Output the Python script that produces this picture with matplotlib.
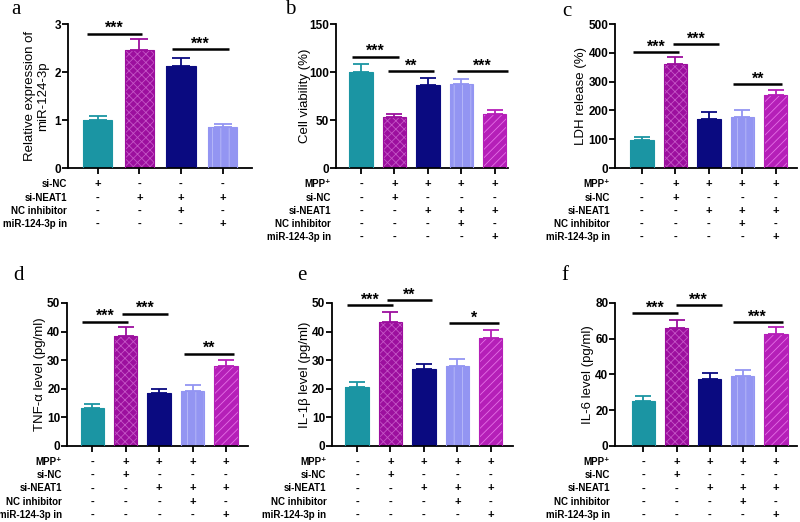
import matplotlib
matplotlib.use("Agg")
import matplotlib.pyplot as plt

plt.rcParams['font.family'] = ['Liberation Sans', 'DejaVu Sans']
plt.rcParams['hatch.linewidth'] = 0.6

# bar styles (face colour, hatch, hatch colour)
colors = ['#1b95a3', '#9c0f9e', '#0a0a80', '#9395f2', '#b51fb8']
hatches = ['', 'xxxx', '', '||', '////']
hatch_colors = ['#1b95a3', '#c455c6', '#0a0a80', '#babcf8', '#e470e6']

# panel a
a_vals = [1.0, 2.45, 2.12, 0.86]
a_sem = [0.09, 0.23, 0.18, 0.06]
a_rows = ['si-NC', 'si-NEAT1', 'NC inhibitor', 'miR-124-3p in']
a_signs = [['+', '-', '-', '-'],
           ['-', '+', '+', '+'],
           ['-', '-', '+', '-'],
           ['-', '-', '-', '+']]
a_sig = [(-0.27, 1.06, 2.80, '***'), (1.78, 3.15, 2.48, '***')]

# panels b-f share the same treatment table
rows5 = ['MPP\u207a', 'si-NC', 'si-NEAT1', 'NC inhibitor', 'miR-124-3p in']
signs5 = [['-', '+', '+', '+', '+'],
          ['-', '+', '-', '-', '-'],
          ['-', '-', '+', '+', '+'],
          ['-', '-', '-', '+', '-'],
          ['-', '-', '-', '-', '+']]

b_vals = [100, 53, 86, 88, 56]
b_sem = [8.5, 3.5, 7.5, 5, 4.8]
b_sig = [(-0.27, 1.13, 116, '***'), (0.8, 2.18, 101, '**'), (2.87, 4.39, 101, '***')]

c_vals = [99, 360, 172, 177, 255]
c_sem = [9, 25, 23, 23, 16]
c_sig = [(-0.27, 1.1, 402, '***'), (0.93, 2.3, 430, '***'), (2.73, 4.2, 292, '**')]

d_vals = [13.4, 38.4, 18.4, 19.3, 27.8]
d_sem = [1.3, 3.2, 1.6, 2.0, 2.3]
d_sig = [(-0.3, 1.08, 43.5, '***'), (0.9, 2.27, 46.3, '***'), (2.75, 4.24, 32.3, '**')]

e_vals = [20.5, 43.5, 26.8, 27.9, 37.7]
e_sem = [2.0, 3.5, 2.0, 2.6, 2.8]
e_sig = [(-0.3, 1.08, 49.2, '***'), (0.9, 2.25, 51, '**'), (2.75, 4.24, 43, '*')]

f_vals = [25.1, 65.9, 37.5, 39.0, 62.5]
f_sem = [3.0, 4.6, 3.5, 3.3, 4.1]
f_sig = [(-0.33, 1.03, 74.2, '***'), (0.97, 2.36, 78.7, '***'), (2.7, 4.2, 69.4, '***')]


def panel(fig, rect, letter, letter_xy, vals, sem, styles, ylabel, ylim, yticks,
          sig, rows, signs, xlim, ylabel_x, row_x, cap=5.5):
    ax = fig.add_axes(rect)
    x = list(range(len(vals)))
    for i, v in enumerate(vals):
        k = styles[i]
        ax.bar(x[i], v, width=0.7, color=colors[k], edgecolor=hatch_colors[k],
               hatch=hatches[k], linewidth=0, zorder=2)
        ax.bar(x[i], v, width=0.7, color='none', edgecolor=colors[k],
               linewidth=0.8, zorder=3)
        ax.errorbar(x[i], v, yerr=[[0], [sem[i]]], fmt='none', ecolor=colors[k],
                    elinewidth=1.3, capsize=cap, capthick=1.3, zorder=1)
    ax.set_xlim(*xlim)
    ax.set_ylim(*ylim)
    ax.set_yticks(yticks)
    ax.set_xticks(x)
    ax.set_xticklabels([])
    for s in ['top', 'right']:
        ax.spines[s].set_visible(False)
    for s in ['left', 'bottom']:
        ax.spines[s].set_linewidth(1.3)
    ax.tick_params(length=4, width=1.3, direction='out', pad=1)
    for t in ax.get_yticklabels():
        t.set_fontweight('bold')
        t.set_fontsize(8.5)
    ax.set_ylabel(ylabel, fontsize=9.5, va='center', linespacing=1.1)
    ax.yaxis.set_label_coords(ylabel_x, 0.5)

    # significance bars
    ytr = ax.get_xaxis_transform()
    span = ylim[1] - ylim[0]
    for x0, x1, y, lab in sig:
        ax.plot([x0, x1], [y, y], color='black', lw=1.8, clip_on=False,
                solid_capstyle='butt')
        ax.text((x0 + x1) / 2, y + span * 0.035, lab, ha='center', va='center',
                fontsize=11.5, fontweight='bold', clip_on=False)

    # treatment table
    for r, name in enumerate(rows):
        yy = -0.113 - r * 0.092
        ax.text(row_x, yy, name, transform=ax.transAxes, ha='right', va='center',
                fontsize=7, fontweight='bold')
        for i in x:
            ax.text(i, yy, signs[r][i], transform=ytr, ha='center', va='center',
                    fontsize=8, fontweight='bold')

    fig.text(letter_xy[0], letter_xy[1], letter, family='Liberation Serif',
             fontsize=15, ha='left', va='center')
    return ax


fig = plt.figure(figsize=(8, 5.22), dpi=100)

panel(fig, [0.085, 0.678, 0.23, 0.276], 'a', (0.014, 0.981), a_vals, a_sem,
      [0, 1, 2, 3], 'Relative expression of\nmiR-124-3p', (0, 3), [0, 1, 2, 3],
      a_sig, a_rows, a_signs, (-0.72, 3.71), -0.17, -0.005, cap=6.5)
panel(fig, [0.42, 0.678, 0.215, 0.276], 'b', (0.356, 0.981), b_vals, b_sem,
      [0, 1, 2, 3, 4], 'Cell viability (%)', (0, 150), [0, 50, 100, 150],
      b_sig, rows5, signs5, (-0.75, 4.4), -0.18, -0.03)
panel(fig, [0.769, 0.678, 0.227, 0.276], 'c', (0.703, 0.978), c_vals, c_sem,
      [0, 1, 2, 3, 4], 'LDH release (%)', (0, 500), [0, 100, 200, 300, 400, 500],
      c_sig, rows5, signs5, (-0.8, 4.63), -0.19, -0.03)
panel(fig, [0.084, 0.1456, 0.226, 0.274], 'd', (0.016, 0.473), d_vals, d_sem,
      [0, 1, 2, 3, 4], 'TNF-\u03b1 level (pg/ml)', (0, 50), [0, 10, 20, 30, 40, 50],
      d_sig, rows5, signs5, (-0.75, 4.66), -0.15, -0.03)
panel(fig, [0.415, 0.1456, 0.226, 0.274], 'e', (0.371, 0.473), e_vals, e_sem,
      [0, 1, 2, 3, 4], 'IL-1\u03b2 level (pg/ml)', (0, 50), [0, 10, 20, 30, 40, 50],
      e_sig, rows5, signs5, (-0.75, 4.66), -0.15, -0.03)
panel(fig, [0.769, 0.1456, 0.227, 0.274], 'f', (0.702, 0.473), f_vals, f_sem,
      [0, 1, 2, 3, 4], 'IL-6 level (pg/ml)', (0, 80), [0, 20, 40, 60, 80],
      f_sig, rows5, signs5, (-0.85, 4.63), -0.15, -0.03)

fig.savefig('out.png', dpi=100)
